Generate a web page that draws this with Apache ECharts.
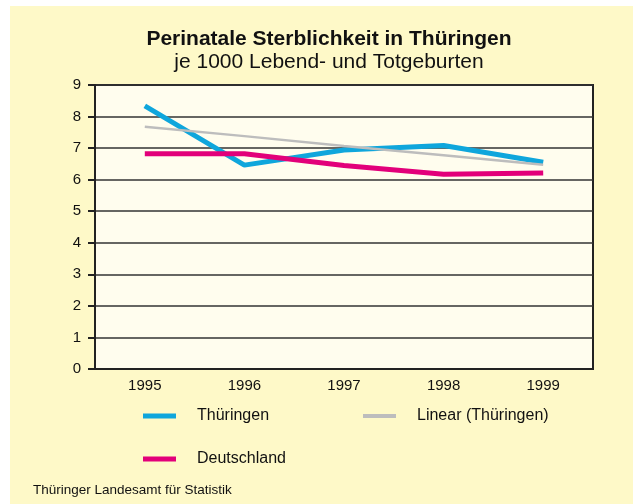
<!DOCTYPE html>
<html>
<head>
<meta charset="utf-8">
<script src="https://cdn.jsdelivr.net/npm/echarts@6/dist/echarts.min.js"></script>
<style>
  html, body { margin: 0; padding: 0; background: #fff; }
  #chart { width: 633px; height: 504px; }
</style>
</head>
<body>
<div id="chart"></div>
<script>
// Daten
var years = ['1995', '1996', '1997', '1998', '1999']
var thueringen = [8.34, 6.46, 6.94, 7.08, 6.55]
var deutschland = [6.82, 6.82, 6.45, 6.17, 6.21]
var linearThueringen = [7.68, 7.38, 7.07, 6.77, 6.47]
var yTicks = [0, 1, 2, 3, 4, 5, 6, 7, 8, 9]

var font = 'Liberation Sans, Arial, sans-serif'

var chart = echarts.init(document.getElementById('chart'), null, { renderer: 'canvas' })

var option = {
  backgroundColor: '#ffffff',
  animation: false,
  graphic: [{
    type: 'rect',
    z: -10,
    shape: { x: 10, y: 6, width: 623, height: 498 },
    style: { fill: '#fef9c8' }
  }, {
    type: 'text',
    left: 33,
    top: 483,
    style: { text: 'Thüringer Landesamt für Statistik', font: '13.5px ' + font, fill: '#111' }
  }],
  title: {
    text: 'Perinatale Sterblichkeit in Thüringen',
    subtext: 'je 1000 Lebend- und Totgeburten',
    left: 324,
    textAlign: 'center',
    top: 24,
    itemGap: 2,
    textStyle: { fontFamily: font, fontSize: 21, fontWeight: 'bold', color: '#111' },
    subtextStyle: { fontFamily: font, fontSize: 21, color: '#111' }
  },
  legend: [{
    left: 138, top: 403,
    data: ['Thüringen'],
    icon: 'rect', itemWidth: 33, itemHeight: 5, itemGap: 0,
    textStyle: { fontFamily: font, fontSize: 16, color: '#111', padding: [0, 0, 0, 16] }
  }, {
    left: 358, top: 403,
    data: ['Linear (Thüringen)'],
    icon: 'rect', itemWidth: 33, itemHeight: 4, itemGap: 0,
    textStyle: { fontFamily: font, fontSize: 16, color: '#111', padding: [0, 0, 0, 16] }
  }, {
    left: 138, top: 446,
    data: ['Deutschland'],
    icon: 'rect', itemWidth: 33, itemHeight: 5, itemGap: 0,
    textStyle: { fontFamily: font, fontSize: 16, color: '#111', padding: [0, 0, 0, 16] }
  }],
  grid: {
    left: 95, right: 40, top: 85, bottom: 135,
    show: true,
    backgroundColor: '#fffdee',
    borderColor: '#222',
    borderWidth: 2
  },
  xAxis: {
    type: 'category',
    data: years,
    boundaryGap: true,
    axisLine: { show: true, lineStyle: { color: '#222', width: 2 } },
    axisTick: { show: false },
    axisLabel: { fontFamily: font, fontSize: 15, color: '#111', margin: 9 },
    splitLine: { show: false }
  },
  yAxis: {
    type: 'value',
    min: yTicks[0],
    max: yTicks[yTicks.length - 1],
    interval: 1,
    axisLine: { show: true, lineStyle: { color: '#222', width: 2 } },
    axisTick: { show: true, length: 7, lineStyle: { color: '#222', width: 2 } },
    axisLabel: { fontFamily: font, fontSize: 15, color: '#111', margin: 14 },
    splitLine: { show: true, lineStyle: { color: '#333', width: 1.5 } }
  },
  series: [{
    name: 'Linear (Thüringen)',
    type: 'line',
    data: linearThueringen,
    symbol: 'none',
    color: '#bdbdbd',
    lineStyle: { color: '#bdbdbd', width: 2.5 },
    z: 3
  }, {
    name: 'Deutschland',
    type: 'line',
    data: deutschland,
    symbol: 'none',
    color: '#e2007a',
    lineStyle: { color: '#e2007a', width: 5 },
    z: 4
  }, {
    name: 'Thüringen',
    type: 'line',
    data: thueringen,
    symbol: 'none',
    color: '#0fa6dc',
    lineStyle: { color: '#0fa6dc', width: 5 },
    z: 2
  }]
}

chart.setOption(option)
</script>
</body>
</html>
